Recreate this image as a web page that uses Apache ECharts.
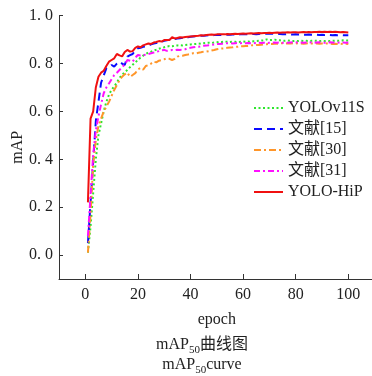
<!DOCTYPE html>
<html>
<head>
<meta charset="utf-8">
<script src="https://cdn.jsdelivr.net/npm/echarts@6/dist/echarts.min.js"></script>
<style>html,body{margin:0;padding:0;background:#fff;}#c{width:372px;height:376px;}</style>
</head>
<body>
<div id="c"></div>
<script>
const epochs = Array.from({length: 100}, (_, i) => i + 1);
const xTicks = [0, 20, 40, 60, 80, 100];
const yTicks = [0, 0.2, 0.4, 0.6, 0.8, 1.0];
const seriesNames = ['YOLOv11S', '文献[15]', '文献[30]', '文献[31]', 'YOLO-HiP'];

const yolov11s = [
0.01,0.12,0.26,0.40,0.50,0.55,0.60,0.64,0.67,0.69,
0.705,0.720,0.740,0.752,0.765,0.773,0.785,0.795,0.805,0.815,
0.825,0.833,0.840,0.846,0.850,0.855,0.858,0.862,0.866,0.868,
0.871,0.873,0.872,0.875,0.876,0.877,0.876,0.878,0.879,0.880,
0.881,0.882,0.884,0.883,0.885,0.886,0.887,0.886,0.888,0.889,
0.891,0.890,0.892,0.891,0.890,0.892,0.891,0.890,0.891,0.892,
0.891,0.892,0.891,0.893,0.894,0.895,0.896,0.897,0.901,0.898,
0.899,0.900,0.898,0.897,0.896,0.895,0.896,0.895,0.894,0.895,
0.894,0.895,0.894,0.895,0.894,0.895,0.896,0.895,0.894,0.895,
0.894,0.895,0.894,0.895,0.896,0.895,0.896,0.897,0.896,0.896];

const ref15 = [
0.05,0.22,0.39,0.56,0.64,0.72,0.75,0.78,0.785,0.794,
0.787,0.800,0.808,0.800,0.794,0.829,0.835,0.840,0.855,0.864,
0.866,0.870,0.872,0.876,0.880,0.884,0.886,0.888,0.892,0.895,
0.897,0.900,0.902,0.903,0.905,0.906,0.908,0.912,0.910,0.912,
0.913,0.914,0.915,0.916,0.916,0.917,0.918,0.918,0.919,0.919,
0.920,0.919,0.920,0.921,0.920,0.921,0.922,0.921,0.922,0.923,
0.922,0.923,0.923,0.924,0.923,0.924,0.925,0.924,0.925,0.926,
0.925,0.924,0.923,0.924,0.923,0.922,0.923,0.922,0.921,0.922,
0.921,0.922,0.921,0.920,0.921,0.920,0.921,0.920,0.919,0.920,
0.919,0.920,0.919,0.918,0.919,0.918,0.919,0.918,0.918,0.918];

const ref30 = [
0.01,0.17,0.38,0.48,0.54,0.57,0.60,0.62,0.64,0.665,
0.69,0.71,0.73,0.745,0.755,0.762,0.745,0.752,0.760,0.775,
0.782,0.775,0.790,0.794,0.800,0.808,0.805,0.812,0.815,0.818,
0.822,0.820,0.815,0.820,0.829,0.832,0.833,0.836,0.838,0.841,
0.843,0.842,0.845,0.847,0.850,0.850,0.852,0.855,0.857,0.860,
0.862,0.863,0.864,0.866,0.867,0.868,0.870,0.870,0.872,0.872,
0.873,0.874,0.876,0.877,0.878,0.878,0.879,0.880,0.881,0.882,
0.882,0.883,0.883,0.884,0.885,0.884,0.885,0.884,0.885,0.884,
0.885,0.884,0.883,0.884,0.885,0.884,0.883,0.884,0.883,0.884,
0.883,0.884,0.883,0.882,0.883,0.882,0.883,0.882,0.883,0.882];

const ref31 = [
0.08,0.25,0.42,0.52,0.58,0.63,0.676,0.70,0.717,0.735,
0.752,0.762,0.773,0.787,0.795,0.815,0.812,0.808,0.825,0.836,
0.834,0.836,0.837,0.840,0.843,0.846,0.850,0.852,0.855,0.857,
0.853,0.855,0.857,0.856,0.858,0.857,0.859,0.860,0.864,0.866,
0.868,0.870,0.870,0.872,0.874,0.875,0.877,0.878,0.880,0.882,
0.882,0.883,0.884,0.885,0.885,0.884,0.885,0.886,0.885,0.886,
0.885,0.886,0.885,0.886,0.885,0.887,0.886,0.887,0.886,0.887,
0.887,0.888,0.887,0.888,0.887,0.888,0.887,0.888,0.889,0.888,
0.889,0.888,0.887,0.888,0.889,0.888,0.887,0.888,0.889,0.888,
0.887,0.888,0.889,0.888,0.887,0.888,0.887,0.888,0.887,0.888];

const yoloHiP = [
0.22,0.57,0.60,0.70,0.745,0.762,0.770,0.790,0.808,0.815,
0.822,0.840,0.834,0.830,0.848,0.857,0.850,0.852,0.866,0.872,
0.868,0.876,0.880,0.884,0.882,0.888,0.890,0.894,0.892,0.898,
0.899,0.898,0.910,0.905,0.907,0.910,0.909,0.911,0.912,0.913,
0.914,0.915,0.916,0.918,0.917,0.919,0.920,0.921,0.920,0.922,
0.922,0.923,0.922,0.924,0.923,0.924,0.925,0.924,0.925,0.926,
0.925,0.926,0.927,0.926,0.927,0.928,0.927,0.928,0.928,0.929,
0.928,0.929,0.930,0.929,0.930,0.930,0.931,0.930,0.931,0.931,
0.930,0.931,0.932,0.931,0.932,0.931,0.932,0.932,0.933,0.932,
0.933,0.932,0.933,0.932,0.933,0.932,0.931,0.932,0.931,0.930];

const seriesData = [yolov11s, ref15, ref30, ref31, yoloHiP];
const colors = ['#2ee62e', '#0a0aff', '#ff962a', '#ff10ff', '#f01010'];
const dashes = [[2, 2.5], [8, 5], [7, 3, 2, 3], [6, 3, 2, 3], 'solid'];

const FONT = "'Liberation Serif', 'Noto Sans CJK SC', serif";

const chart = echarts.init(document.getElementById('c'), null, {renderer: 'canvas'});
chart.setOption({
  animation: false,
  backgroundColor: '#fff',
  color: colors,
  grid: {left: 59, top: 15.7, right: -2.6, bottom: 97, containLabel: false, outerBoundsMode: 'none'},
  legend: {
    orient: 'vertical', left: 248, top: 95,
    itemWidth: 29, itemHeight: 14, itemGap: 5,
    itemStyle: {opacity: 0},
    textStyle: {fontFamily: FONT, fontSize: 16, color: '#222'},
    data: seriesNames
  },
  xAxis: {
    type: 'value', min: -10, max: 110,
    name: 'epoch', nameLocation: 'middle', nameGap: 33, nameMoveOverlap: false,
    nameTextStyle: {fontFamily: FONT, fontSize: 16, color: '#222'},
    axisLine: {show: true, onZero: false, lineStyle: {color: '#333', width: 1}},
    axisTick: {show: true, inside: true, length: 5, customValues: xTicks, lineStyle: {color: '#333'}},
    axisLabel: {customValues: xTicks, margin: 8, fontFamily: FONT, fontSize: 16, color: '#222'},
    splitLine: {show: false}
  },
  yAxis: {
    type: 'value', min: -0.1, max: 1.0,
    name: 'mAP', nameLocation: 'middle', nameGap: 33, nameRotate: 90, nameMoveOverlap: false,
    nameTextStyle: {fontFamily: FONT, fontSize: 16, color: '#222'},
    axisLine: {show: true, onZero: false, lineStyle: {color: '#333', width: 1}},
    axisTick: {show: true, inside: true, length: 4, customValues: yTicks, lineStyle: {color: '#333'}},
    axisLabel: {customValues: yTicks, margin: 6, fontFamily: FONT, fontSize: 16, color: '#222',
      formatter: v => v.toFixed(1).replace('.', '. ')},
    splitLine: {show: false}
  },
  graphic: [
    {type: 'text', x: 202, y: 345, style: {
      text: '{a|mAP}{s|50}{a|曲线图}', align: 'center', verticalAlign: 'middle',
      rich: {a: {fontFamily: FONT, fontSize: 16, lineHeight: 22, verticalAlign: 'middle', fill: '#222'},
             s: {fontFamily: FONT, fontSize: 11, lineHeight: 22, verticalAlign: 'bottom', fill: '#222'}}
    }},
    {type: 'text', x: 202, y: 365, style: {
      text: '{a|mAP}{s|50}{a|curve}', align: 'center', verticalAlign: 'middle',
      rich: {a: {fontFamily: FONT, fontSize: 16, lineHeight: 22, verticalAlign: 'middle', fill: '#222'},
             s: {fontFamily: FONT, fontSize: 11, lineHeight: 22, verticalAlign: 'bottom', fill: '#222'}}
    }}
  ],
  series: seriesNames.map((name, i) => ({
    name: name, type: 'line', symbol: 'none', smooth: false,
    data: epochs.map((e, j) => [e, seriesData[i][j]]),
    lineStyle: {color: colors[i], width: 2, type: dashes[i]},
    itemStyle: {color: colors[i]}
  }))
});
</script>
</body>
</html>
